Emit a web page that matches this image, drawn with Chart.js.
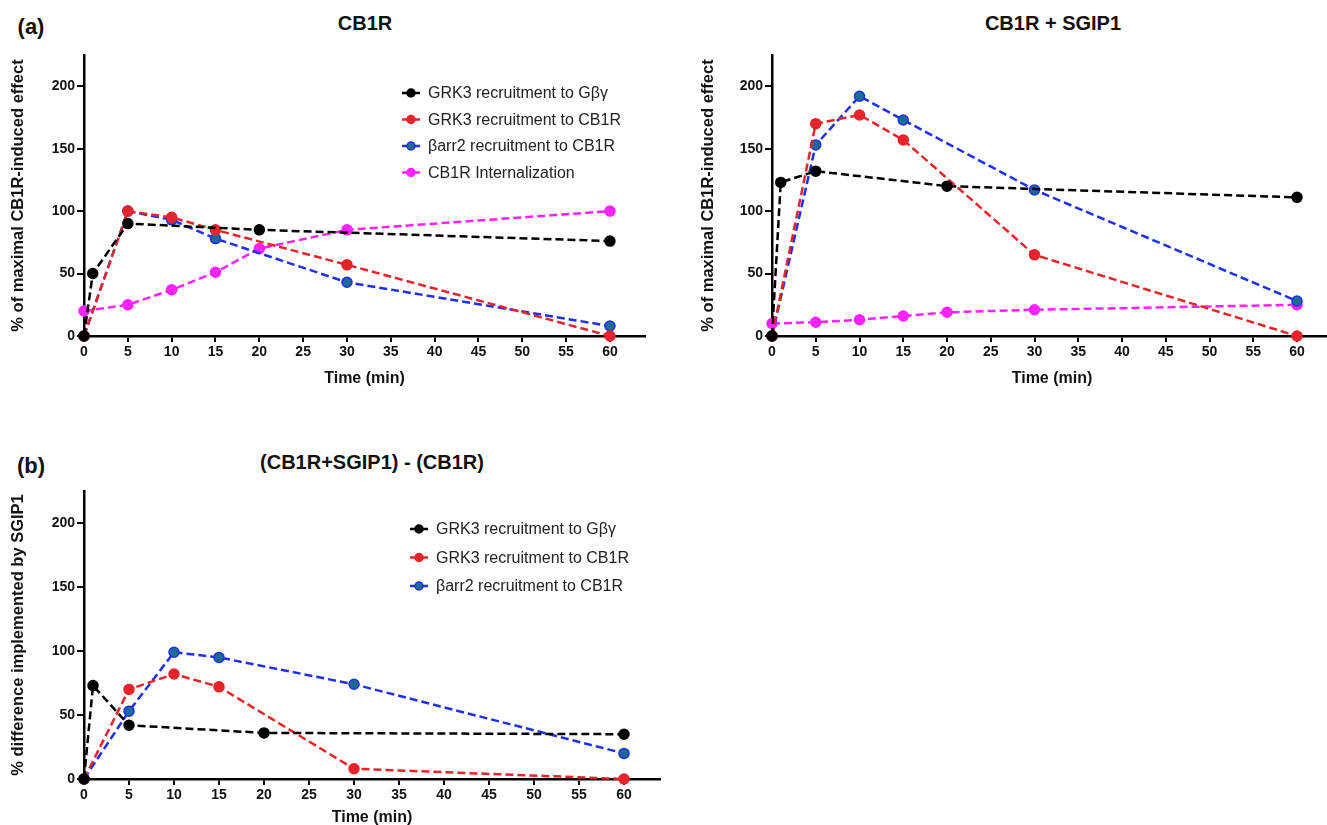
<!DOCTYPE html>
<html>
<head>
<meta charset="utf-8">
<script src="https://cdn.jsdelivr.net/npm/chart.js@4.4.0/dist/chart.umd.min.js"></script>
<style>
  html, body { margin: 0; padding: 0; background: #fff; width: 1327px; height: 825px; overflow: hidden; }
  .caja { position: absolute; }
  .rotulo { position: absolute; transform: translate(-50%, -50%); font-family: 'Liberation Sans', Arial, sans-serif; font-weight: bold; color: #111; white-space: nowrap; }
</style>
</head>
<body>
<div class="rotulo" style="left:31px;top:27px;font-size:22px">(a)</div>
<div class="rotulo" style="left:365px;top:23px;font-size:20px">CB1R</div>
<div class="rotulo" style="left:1053px;top:23px;font-size:20px">CB1R + SGIP1</div>
<div class="rotulo" style="left:31px;top:466px;font-size:22px">(b)</div>
<div class="rotulo" style="left:372px;top:462px;font-size:20px">(CB1R+SGIP1) - (CB1R)</div>

<div class="caja" style="left:0;top:0"><canvas id="graficaA" width="660" height="392"></canvas></div>
<div class="caja" style="left:680px;top:0"><canvas id="graficaSgip" width="660" height="392"></canvas></div>
<div class="caja" style="left:0;top:440px"><canvas id="graficaB" width="670" height="391"></canvas></div>

<script>
// tiempos (min) de cada serie
const tiempoGbg = [0, 1, 5, 20, 60];
const tiempoRec = [0, 5, 10, 15, 30, 60];
const tiempoInt = [0, 5, 10, 15, 20, 30, 60];

const etiquetas = ['GRK3 recruitment to G\u03B2\u03B3', 'GRK3 recruitment to CB1R', '\u03B2arr2 recruitment to CB1R', 'CB1R Internalization'];

// panel CB1R
const cb1rGbg = [0, 50, 90, 85, 76];
const cb1rGrk3 = [0, 100, 95, 85, 57, 0];
const cb1rBarr2 = [0, 100, 93, 78, 43, 8];
const cb1rInt = [20, 25, 37, 51, 70, 85, 100];

// panel CB1R + SGIP1
const sgipGbg = [0, 123, 132, 120, 111];
const sgipGrk3 = [0, 170, 177, 157, 65, 0];
const sgipBarr2 = [0, 153, 192, 173, 117, 28];
const sgipInt = [10, 11, 13, 16, 19, 21, 25];

// panel (b) diferencia
const difGbg = [0, 73, 42, 36, 35];
const difGrk3 = [0, 70, 82, 72, 8, 0];
const difBarr2 = [0, 53, 99, 95, 74, 20];

const ejeX = [0, 64];
const ejeY = [0, 225];

const colores = {
  negro: ['#000000', '#000000'],
  rojo: ['#e8242b', '#e8242b'],
  azul: ['#1f2ff0', '#1b6b96'],
  magenta: ['#ff22ff', '#ff22ff']
};

const fuente = "'Liberation Sans', Arial, sans-serif";

function serie(label, xs, ys, color) {
  return {
    label,
    data: xs.map((x, i) => ({x, y: ys[i]})),
    borderColor: color[0],
    backgroundColor: color[1],
    pointBackgroundColor: color[1],
    pointBorderColor: color[0],
    pointBorderWidth: 1.5,
    pointRadius: 5,
    borderWidth: 2.5,
    borderDash: [8, 4],
    tension: 0,
    clip: false
  };
}

// leyenda dibujada dentro del area del grafico
const leyendaInterna = {
  id: 'leyendaInterna',
  afterDraw(chart, args, opts) {
    const ctx = chart.ctx;
    ctx.save();
    chart.data.datasets.forEach((ds, i) => {
      const y = opts.y + i * opts.gap;
      ctx.setLineDash([]);
      ctx.strokeStyle = ds.borderColor;
      ctx.lineWidth = 2.5;
      ctx.beginPath();
      ctx.moveTo(opts.x - 9, y);
      ctx.lineTo(opts.x + 9, y);
      ctx.stroke();
      ctx.beginPath();
      ctx.arc(opts.x, y, 4, 0, Math.PI * 2);
      ctx.fillStyle = ds.pointBackgroundColor;
      ctx.fill();
      ctx.lineWidth = 1.5;
      ctx.stroke();
      ctx.fillStyle = '#222';
      ctx.font = '16px ' + fuente;
      ctx.textBaseline = 'middle';
      ctx.fillText(ds.label, opts.x + 17, y + 1);
    });
    ctx.restore();
  }
};

function crearGrafica(id, datasets, cfg) {
  return new Chart(document.getElementById(id), {
    type: 'line',
    data: {datasets},
    options: {
      responsive: false,
      animation: false,
      layout: {padding: cfg.padding},
      plugins: {
        legend: {display: false},
        tooltip: {enabled: false},
        leyendaInterna: cfg.leyenda
      },
      scales: {
        x: {
          type: 'linear',
          min: ejeX[0],
          max: ejeX[1],
          afterFit: s => { s.height = cfg.altoX; },
          border: {color: '#000', width: 2.5},
          grid: {drawOnChartArea: false, drawTicks: true, tickLength: 6, color: '#000', lineWidth: 2},
          ticks: {stepSize: 5, includeBounds: false, color: '#111', padding: 2, maxRotation: 0, autoSkip: false,
                  font: {family: fuente, size: 14, weight: 'bold'}},
          title: {display: true, text: 'Time (min)', color: '#111', padding: {top: 4, bottom: 4},
                  font: {family: fuente, size: 16, weight: 'bold'}}
        },
        y: {
          min: ejeY[0],
          max: ejeY[1],
          afterFit: s => { s.width = cfg.anchoY; },
          border: {color: '#000', width: 2.5},
          grid: {drawOnChartArea: false, drawTicks: true, tickLength: 7, color: '#000', lineWidth: 2},
          ticks: {stepSize: 50, includeBounds: false, color: '#111', padding: 2,
                  font: {family: fuente, size: 14, weight: 'bold'}},
          title: {display: true, text: cfg.tituloY, color: '#111', padding: {top: 4, bottom: 4},
                  font: {family: fuente, size: 16.5, weight: 'bold'}}
        }
      }
    },
    plugins: [leyendaInterna]
  });
}

crearGrafica('graficaA', [
  serie(etiquetas[0], tiempoGbg, cb1rGbg, colores.negro),
  serie(etiquetas[1], tiempoRec, cb1rGrk3, colores.rojo),
  serie(etiquetas[2], tiempoRec, cb1rBarr2, colores.azul),
  serie(etiquetas[3], tiempoInt, cb1rInt, colores.magenta)
], {
  padding: {left: 5, right: 15, top: 55, bottom: 0},
  anchoY: 79, altoX: 56,
  tituloY: '% of maximal CB1R-induced effect',
  leyenda: {x: 411, y: 93, gap: 26.5}
});

crearGrafica('graficaSgip', [
  serie(etiquetas[0], tiempoGbg, sgipGbg, colores.negro),
  serie(etiquetas[1], tiempoRec, sgipGrk3, colores.rojo),
  serie(etiquetas[2], tiempoRec, sgipBarr2, colores.azul),
  serie(etiquetas[3], tiempoInt, sgipInt, colores.magenta)
], {
  padding: {left: 15, right: 8, top: 55, bottom: 0},
  anchoY: 77, altoX: 56,
  tituloY: '% of maximal CB1R-induced effect',
  leyenda: {x: -1000, y: -1000, gap: 0}
});

crearGrafica('graficaB', [
  serie(etiquetas[0], tiempoGbg, difGbg, colores.negro),
  serie(etiquetas[1], tiempoRec, difGrk3, colores.rojo),
  serie(etiquetas[2], tiempoRec, difBarr2, colores.azul)
], {
  padding: {left: 5, right: 10, top: 51, bottom: 0},
  anchoY: 79, altoX: 52,
  tituloY: '% difference implemented by SGIP1',
  leyenda: {x: 419, y: 89, gap: 28.5}
});
</script>
</body>
</html>
